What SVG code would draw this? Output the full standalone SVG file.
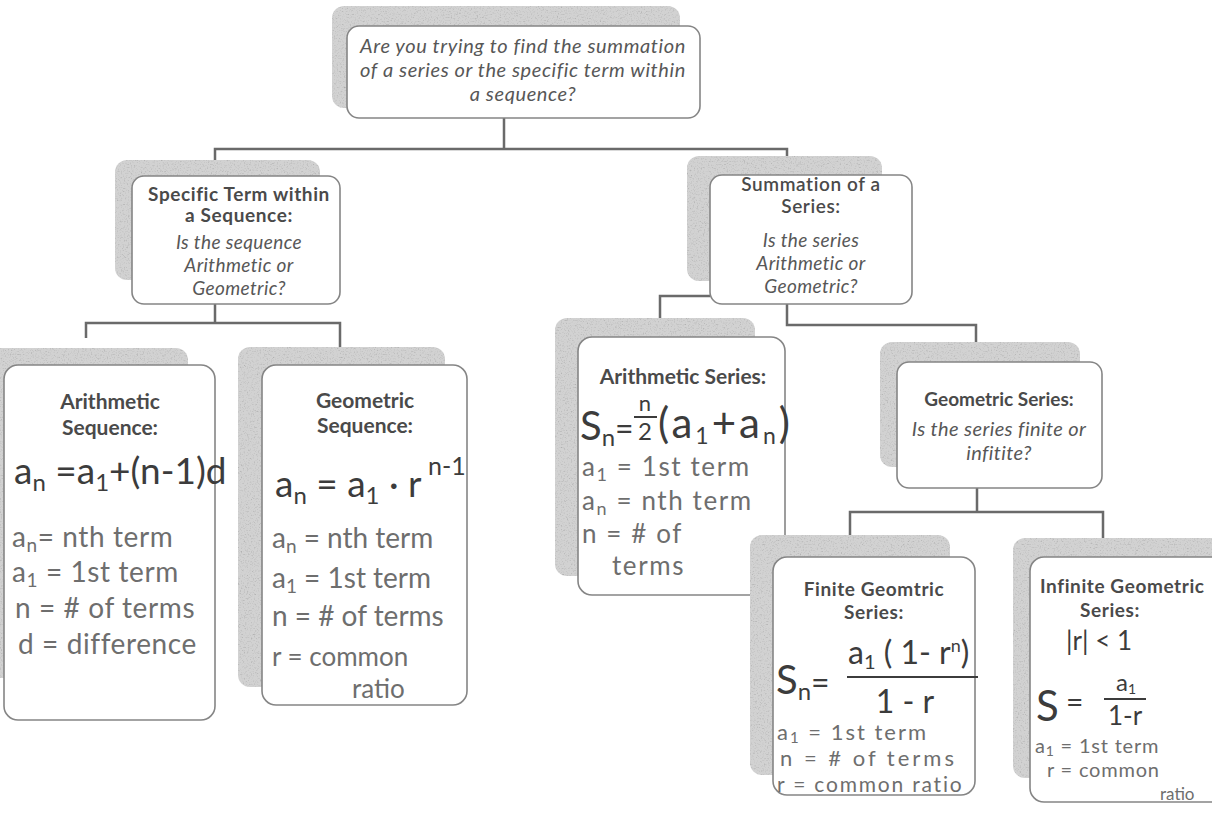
<svg xmlns="http://www.w3.org/2000/svg" width="1212" height="813" viewBox="0 0 1212 813">
<defs>
<filter id="tex" x="-5%" y="-5%" width="110%" height="110%">
<feTurbulence type="fractalNoise" baseFrequency="0.7" numOctaves="2" seed="4" result="t"/>
<feColorMatrix in="t" type="matrix" values="0.4 0.4 0.4 0 0.4  0.4 0.4 0.4 0 0.4  0.4 0.4 0.4 0 0.4  0 0 0 0 1" result="g"/>
<feComposite in="g" in2="SourceAlpha" operator="in" result="gm"/>
<feBlend in="gm" in2="SourceGraphic" mode="multiply"/>
</filter>
<style>
.sh{fill:#d2d2d2;filter:url(#tex)}
.bx{fill:#fff;stroke:#858585;stroke-width:1.6}
.t{font-family:Lato,"Liberation Sans",sans-serif;font-size:21px;font-weight:700;fill:#4a4a4a;text-anchor:middle}
.t2{font-size:19px;letter-spacing:0.6px}
.q{font-family:Lato,"Liberation Sans",sans-serif;font-size:19px;font-style:italic;fill:#575757;text-anchor:middle;letter-spacing:0.4px}
.hw{font-family:Lato,"Liberation Sans",sans-serif;fill:#3c3c3c}
.df{font-family:Lato,"Liberation Sans",sans-serif;fill:#6e6e6e}
.m{text-anchor:middle}
</style>
</defs>
<rect width="1212" height="813" fill="#fff"/>

<g id="connectors" stroke="#6a6a6a" stroke-width="2.5" fill="none">
<path d="M504,118 V149 M215,160 V149 H787 V158"/>
<path d="M215,304 V323 M86,338 V323 H340 V347"/>
<path d="M710,296 H660 V320"/>
<path d="M787,304 V325 H976 V342"/>
<path d="M977,488 V512 M850,537 V512 H1103 V540"/>
</g>

<g id="n-question">
<rect class="sh" x="332" y="6" width="348" height="102" rx="12"/>
<rect class="bx" x="347" y="26" width="353" height="92" rx="12"/>
<text class="q" x="523" y="53" style="font-size:20px;letter-spacing:0.6px">Are you trying to find the summation</text>
<text class="q" x="523" y="77" style="font-size:20px;letter-spacing:0.6px">of a series or the specific term within</text>
<text class="q" x="523" y="101" style="font-size:20px;letter-spacing:0.6px">a sequence?</text>
</g>

<g id="n-specific">
<rect class="sh" x="115" y="160" width="205" height="120" rx="12"/>
<rect class="bx" x="132" y="176" width="208" height="128" rx="12"/>
<text class="t t2" x="239" y="201">Specific Term within</text>
<text class="t t2" x="239" y="222">a Sequence:</text>
<text class="q" x="239" y="249">Is the sequence</text>
<text class="q" x="239" y="272">Arithmetic or</text>
<text class="q" x="239" y="295">Geometric?</text>
</g>

<g id="n-summation">
<rect class="sh" x="687" y="156" width="195" height="125" rx="12"/>
<rect class="bx" x="710" y="175" width="202" height="129" rx="12"/>
<text class="t t2" x="811" y="191" style="font-weight:600">Summation of a</text>
<text class="t t2" x="811" y="213" style="font-weight:600">Series:</text>
<text class="q" x="811" y="247">Is the series</text>
<text class="q" x="811" y="270">Arithmetic or</text>
<text class="q" x="811" y="293">Geometric?</text>
</g>

<g id="n-arith-seq">
<rect class="sh" x="-12" y="348" width="200" height="330" rx="12"/>
<rect class="bx" x="4" y="365" width="211" height="355" rx="14"/>
<text class="t" x="110" y="409">Arithmetic</text>
<text class="t" x="110" y="435">Sequence:</text>
<text class="hw" x="14" y="484" font-size="37">a<tspan font-size="24" dy="7">n</tspan><tspan dy="-7"> =a</tspan><tspan font-size="24" dy="7">1</tspan><tspan dy="-7">+(n-1)d</tspan></text>
<text class="df" x="12" y="547" font-size="28" letter-spacing="0.6">a<tspan font-size="19" dy="5">n</tspan><tspan dy="-5">= nth term</tspan></text>
<text class="df" x="12" y="582" font-size="28" letter-spacing="0.6">a<tspan font-size="19" dy="5">1</tspan><tspan dy="-5"> = 1st term</tspan></text>
<text class="df" x="15" y="618" font-size="28" letter-spacing="0.6">n = # of terms</text>
<text class="df" x="18" y="654" font-size="28" letter-spacing="0.6">d = difference</text>
</g>

<g id="n-geo-seq">
<rect class="sh" x="238" y="347" width="207" height="340" rx="12"/>
<rect class="bx" x="262" y="365" width="205" height="340" rx="14"/>
<text class="t" x="365" y="408">Geometric</text>
<text class="t" x="365" y="433">Sequence:</text>
<text class="hw" x="275" y="497" font-size="37">a<tspan font-size="24" dy="7">n</tspan><tspan dy="-7"> = a</tspan><tspan font-size="24" dy="7">1</tspan><tspan dy="-7"> · r</tspan><tspan font-size="25" dy="-22"> n-1</tspan></text>
<text class="df" x="272" y="548" font-size="28">a<tspan font-size="19" dy="5">n</tspan><tspan dy="-5"> = nth term</tspan></text>
<text class="df" x="272" y="588" font-size="28">a<tspan font-size="19" dy="5">1</tspan><tspan dy="-5"> = 1st term</tspan></text>
<text class="df" x="272" y="626" font-size="28">n = # of terms</text>
<text class="df" x="272" y="666" font-size="26">r = common</text>
<text class="df" x="352" y="698" font-size="26">ratio</text>
</g>

<g id="n-arith-series">
<rect class="sh" x="555" y="318" width="200" height="258" rx="12"/>
<rect class="bx" x="578" y="337" width="207" height="258" rx="14"/>
<text class="t" x="683" y="384">Arithmetic Series:</text>
<text class="hw" x="580" y="440" font-size="40">S<tspan font-size="24" dy="6">n</tspan><tspan dy="-6" font-size="32">=</tspan></text>
<text class="hw m" x="645" y="411" font-size="22">n</text>
<line x1="634" y1="417" x2="657" y2="417" stroke="#3c3c3c" stroke-width="2"/>
<text class="hw m" x="645" y="440" font-size="24">2</text>
<text class="hw" x="658" y="438" font-size="42" letter-spacing="3">(a<tspan font-size="23" dy="6">1</tspan><tspan dy="-6">+a</tspan><tspan font-size="23" dy="6">n</tspan><tspan dy="-6">)</tspan></text>
<text class="df" x="582" y="476" font-size="26" letter-spacing="1.6">a<tspan font-size="18" dy="5">1</tspan><tspan dy="-5"> = 1st term</tspan></text>
<text class="df" x="582" y="510" font-size="26" letter-spacing="1.6">a<tspan font-size="18" dy="5">n</tspan><tspan dy="-5"> = nth term</tspan></text>
<text class="df" x="582" y="543" font-size="26" letter-spacing="1.6">n = # of</text>
<text class="df" x="612" y="575" font-size="26" letter-spacing="1.6">terms</text>
</g>

<g id="n-geo-series">
<rect class="sh" x="880" y="342" width="200" height="125" rx="12"/>
<rect class="bx" x="897" y="362" width="205" height="126" rx="12"/>
<text class="t" x="999" y="406" style="font-size:19px">Geometric Series:</text>
<text class="q" x="999" y="436" style="font-size:20px">Is the series finite or</text>
<text class="q" x="999" y="460" style="font-size:20px">infitite?</text>
</g>

<g id="n-finite">
<rect class="sh" x="750" y="535" width="200" height="240" rx="12"/>
<rect class="bx" x="773" y="557" width="202" height="238" rx="14"/>
<text class="t t2" x="874" y="596">Finite Geomtric</text>
<text class="t t2" x="874" y="619">Series:</text>
<text class="hw" x="776" y="694" font-size="40">S<tspan font-size="24" dy="6">n</tspan><tspan dy="-6" font-size="32">=</tspan></text>
<text class="hw" x="848" y="664" font-size="32">a<tspan font-size="20" dy="5">1</tspan><tspan dy="-5"> ( 1- r</tspan><tspan font-size="18" dy="-12">n</tspan><tspan dy="12">)</tspan></text>
<line x1="847" y1="677" x2="978" y2="677" stroke="#3c3c3c" stroke-width="2"/>
<text class="hw m" x="905" y="713" font-size="32">1 - r</text>
<text class="df" x="777" y="740" font-size="22" letter-spacing="2">a<tspan font-size="15" dy="3">1</tspan><tspan dy="-3"> = 1st term</tspan></text>
<text class="df" x="780" y="766" font-size="22" letter-spacing="3">n = # of terms</text>
<text class="df" x="777" y="792" font-size="21" letter-spacing="1.8">r = common ratio</text>
</g>

<g id="n-infinite">
<rect class="sh" x="1013" y="538" width="220" height="240" rx="12"/>
<rect class="bx" x="1030" y="557" width="210" height="245" rx="14"/>
<text class="t t2" x="1040" y="593" style="text-anchor:start">Infinite Geometric</text>
<text class="t t2" x="1110" y="617">Series:</text>
<text class="hw" x="1066" y="650" font-size="26">|r| &lt; 1</text>
<text class="hw" x="1036" y="721" font-size="42">S</text>
<text class="hw" x="1066" y="713" font-size="30">=</text>
<text class="hw m" x="1126" y="691" font-size="24">a<tspan font-size="14" dy="3">1</tspan></text>
<line x1="1104" y1="699" x2="1146" y2="699" stroke="#3c3c3c" stroke-width="2"/>
<text class="hw m" x="1125" y="725" font-size="26">1-r</text>
<text class="df" x="1035" y="753" font-size="20" letter-spacing="0.8">a<tspan font-size="14" dy="3">1</tspan><tspan dy="-3"> = 1st term</tspan></text>
<text class="df" x="1047" y="777" font-size="20" letter-spacing="0.8">r = common</text>
<text class="df" x="1160" y="800" font-size="17">ratio</text>
</g>
</svg>
